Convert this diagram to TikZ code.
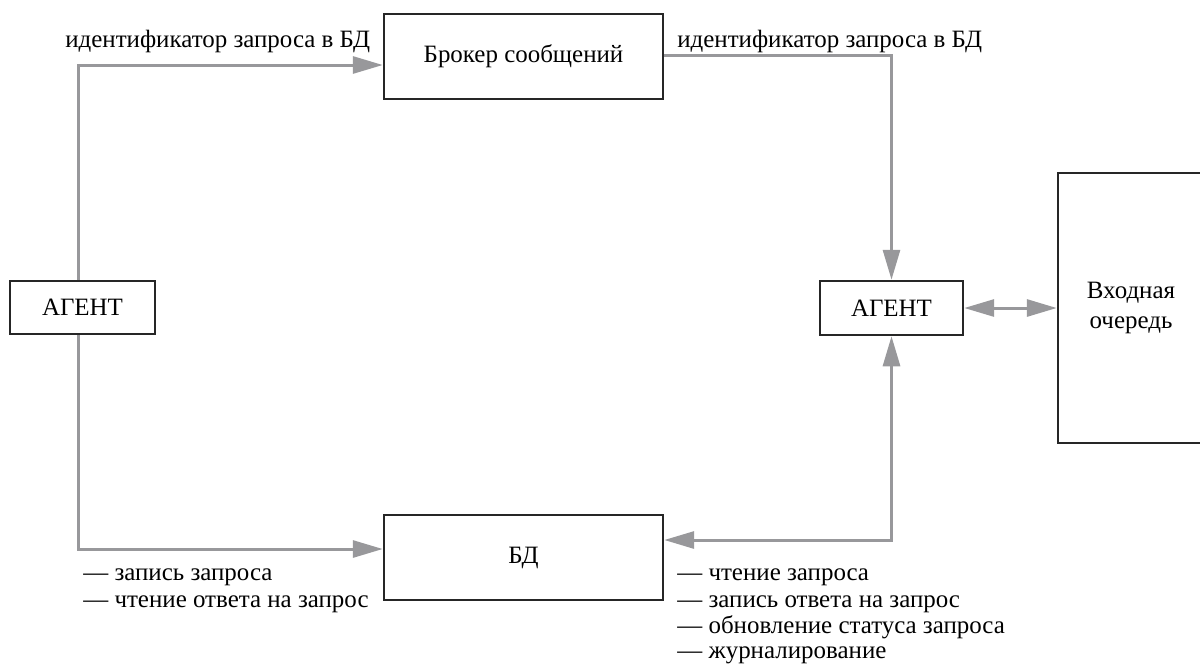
\documentclass[tikz,border=0pt]{standalone}
\usepackage{fontspec}
\setmainfont{Liberation Serif}
\usetikzlibrary{arrows.meta}
\definecolor{linkgray}{RGB}{152,152,155}

\begin{document}
\begin{tikzpicture}[x=0.02cm, y=-0.02cm,
        font=\fontsize{14.2}{17}\selectfont,
        box/.style={draw=black!85, line width=0.05cm, inner sep=0pt},
        link/.style={draw=linkgray, line width=0.06cm,
                     -{Triangle[length=0.6cm, width=0.34cm, color=linkgray]}},
        dlink/.style={link, {Triangle[length=0.6cm, width=0.34cm, color=linkgray]}-{Triangle[length=0.6cm, width=0.34cm, color=linkgray]}},
        note/.style={anchor=base west, inner sep=0pt}]
        \useasboundingbox (0,0) rectangle (1200,664);
%        \draw [help lines] (0,0) grid [step=100] (1200,664);
        \node [box, minimum width=5.58cm, minimum height=1.7cm] (broker) at (523.5,56.5) {Брокер сообщений};
        \node [box, minimum width=2.9cm, minimum height=1.06cm] (lagent) at (82.5,307.5) {АГЕНТ};
        \node [box, minimum width=2.86cm, minimum height=1.08cm] (ragent) at (891.5,308) {АГЕНТ};
        \node [box, minimum width=2.92cm, minimum height=5.4cm, align=center] (queue) at (1131,308) {Входная\\очередь};
        \node [box, minimum width=5.58cm, minimum height=1.7cm] (db) at (523.5,557.5) {БД};

        \draw [link] ([xshift=-0.09cm]lagent.north) |- ([yshift=-0.17cm]broker.west);
        \draw [link] ([yshift=0.03cm]broker.east) -| (ragent.north);
        \draw [link] ([xshift=-0.09cm]lagent.south) |- ([yshift=0.17cm]db.west);
        \draw [dlink] (ragent.south) |- ([yshift=0.35cm]db.east);
        \draw [dlink] (ragent.east) -- (queue.west);

        \node [note] (idl) at (65,47) {идентификатор запроса в БД};
        \node [note] (idr) at (677,47) {идентификатор запроса в БД};

        \node [note] (wl1) at (83,580) {— запись запроса};
        \node [note] (wl2) at (83,607) {— чтение ответа на запрос};

        \node [note] (wr1) at (677,580) {— чтение запроса};
        \node [note] (wr2) at (677,607) {— запись ответа на запрос};
        \node [note] (wr3) at (677,633) {— обновление статуса запроса};
        \node [note] (wr4) at (677,658) {— журналирование};
\end{tikzpicture}
\end{document}
